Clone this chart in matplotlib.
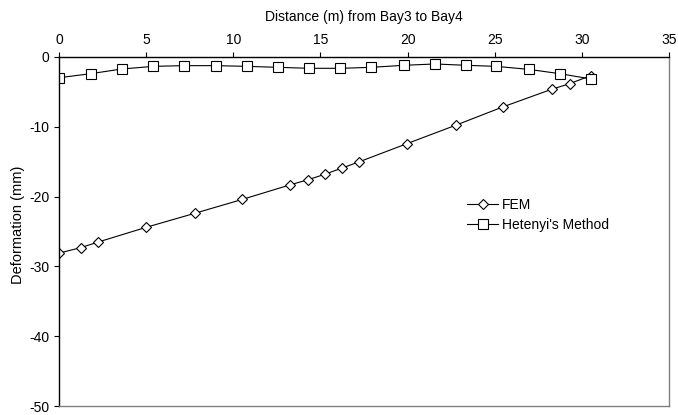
import matplotlib.pyplot as plt

plt.rcParams['font.family'] = ['Liberation Sans', 'DejaVu Sans']
plt.rcParams['axes.unicode_minus'] = False

# FEM results
fem_x = [0, 1.26, 2.26, 5.0, 7.78, 10.52, 13.28, 14.27, 15.25, 16.25, 17.24,
         19.98, 22.8, 25.5, 28.26, 29.3, 30.5]
fem_y = [-28.1, -27.3, -26.5, -24.4, -22.4, -20.4, -18.3, -17.6, -16.8, -15.9, -15.0,
         -12.4, -9.74, -7.12, -4.63, -3.82, -2.68]

# Hetenyi's method
het_x = [0, 1.82, 3.6, 5.42, 7.15, 9.0, 10.8, 12.55, 14.37, 16.15, 17.93,
         19.79, 21.57, 23.35, 25.07, 26.95, 28.74, 30.53]
het_y = [-2.97, -2.39, -1.72, -1.34, -1.24, -1.24, -1.34, -1.48, -1.62, -1.62, -1.48,
         -1.19, -1.0, -1.19, -1.34, -1.77, -2.39, -3.15]

fig = plt.figure(figsize=(6.78, 4.15), dpi=100)
ax = fig.add_axes([59 / 678, 1 - 406 / 415, 610 / 678, 349 / 415])

ax.plot(fem_x, fem_y, color='black', lw=0.8, marker='D', ms=5,
        mfc='white', mec='black', mew=0.8, label='FEM')
ax.plot(het_x, het_y, color='black', lw=0.8, marker='s', ms=6.5,
        mfc='white', mec='black', mew=0.8, label="Hetenyi's Method")

ax.set_xlim(0, 35)
ax.set_ylim(-50, 0)
ax.set_xticks(range(0, 36, 5))
ax.set_yticks(range(-50, 1, 10))

ax.xaxis.tick_top()
ax.xaxis.set_label_position('top')
ax.set_xlabel('Distance (m) from Bay3 to Bay4', fontsize=10, labelpad=9)
ax.set_ylabel('Deformation (mm)', fontsize=10.5, labelpad=3)
ax.yaxis.set_label_coords(-0.055, 0.52)
ax.tick_params(axis='both', labelsize=10, length=3.5, width=0.8, color='black')

for side in ['left', 'top']:
    ax.spines[side].set_color('black')
    ax.spines[side].set_linewidth(1.0)
for side in ['right', 'bottom']:
    ax.spines[side].set_color('#808080')
    ax.spines[side].set_linewidth(1.0)

ax.legend(loc='upper left', bbox_to_anchor=(0.649, 0.633), frameon=False,
          fontsize=10, handlelength=2.2, handletextpad=0.3, labelspacing=0.45)

fig.savefig('out.png', dpi=100)
